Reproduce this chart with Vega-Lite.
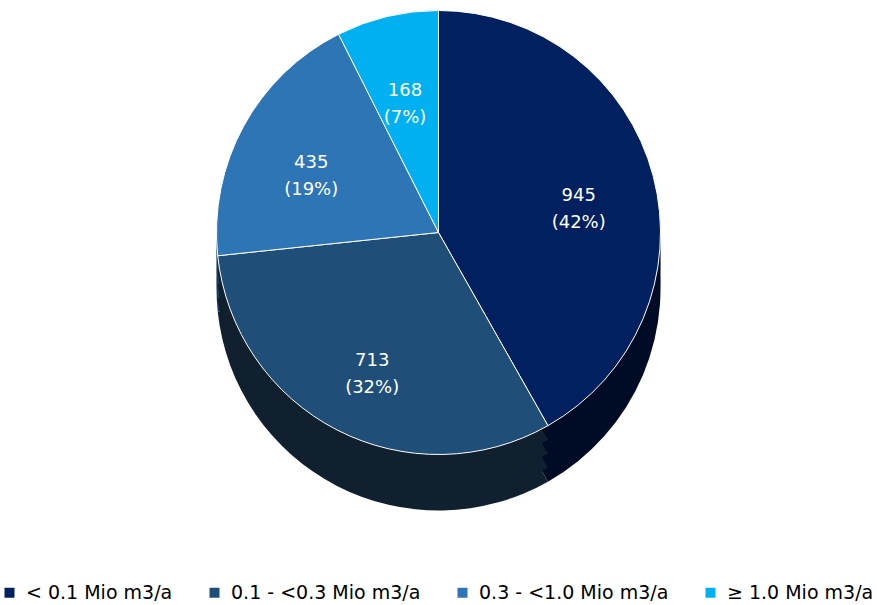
{
  "$schema": "https://vega.github.io/schema/vega-lite/v6.json",
  "width": 877,
  "height": 605,
  "autosize": "none",
  "padding": 0,
  "background": "white",
  "config": {"view": {"stroke": null}, "font": "DejaVu Sans"},
  "data": {
    "values": [
      {"i": 1, "cat": "< 0.1 Mio m3/a", "value": 945, "label": "945\n(42%)"},
      {"i": 2, "cat": "0.1 - <0.3 Mio m3/a", "value": 713, "label": "713\n(32%)"},
      {"i": 3, "cat": "0.3 - <1.0 Mio m3/a", "value": 435, "label": "435\n(19%)"},
      {"i": 4, "cat": "≥ 1.0 Mio m3/a", "value": 168, "label": "168\n(7%)"}
    ]
  },
  "layer": [
    {
      "mark": {"type": "arc", "outerRadius": 222, "yOffset": -14},
      "encoding": {
        "theta": {"field": "value", "type": "quantitative", "stack": true},
        "order": {"field": "i"},
        "color": {"field": "cat", "type": "nominal", "legend": null,
          "scale": {"domain": ["< 0.1 Mio m3/a", "0.1 - <0.3 Mio m3/a", "0.3 - <1.0 Mio m3/a", "≥ 1.0 Mio m3/a"],
                    "range": ["#000c25", "#10202f", "#173b5b", "#005878"]}}
      }
    },
    {
      "mark": {"type": "arc", "outerRadius": 222, "yOffset": -28},
      "encoding": {
        "theta": {"field": "value", "type": "quantitative", "stack": true},
        "order": {"field": "i"},
        "color": {"field": "cat", "type": "nominal", "legend": null,
          "scale": {"domain": ["< 0.1 Mio m3/a", "0.1 - <0.3 Mio m3/a", "0.3 - <1.0 Mio m3/a", "≥ 1.0 Mio m3/a"],
                    "range": ["#000c25", "#10202f", "#173b5b", "#005878"]}}
      }
    },
    {
      "mark": {"type": "arc", "outerRadius": 222, "yOffset": -42},
      "encoding": {
        "theta": {"field": "value", "type": "quantitative", "stack": true},
        "order": {"field": "i"},
        "color": {"field": "cat", "type": "nominal", "legend": null,
          "scale": {"domain": ["< 0.1 Mio m3/a", "0.1 - <0.3 Mio m3/a", "0.3 - <1.0 Mio m3/a", "≥ 1.0 Mio m3/a"],
                    "range": ["#000c25", "#10202f", "#173b5b", "#005878"]}}
      }
    },
    {
      "mark": {"type": "arc", "outerRadius": 222, "yOffset": -56},
      "encoding": {
        "theta": {"field": "value", "type": "quantitative", "stack": true},
        "order": {"field": "i"},
        "color": {"field": "cat", "type": "nominal", "legend": null,
          "scale": {"domain": ["< 0.1 Mio m3/a", "0.1 - <0.3 Mio m3/a", "0.3 - <1.0 Mio m3/a", "≥ 1.0 Mio m3/a"],
                    "range": ["#000c25", "#10202f", "#173b5b", "#005878"]}}
      }
    },
    {
      "mark": {"type": "arc", "outerRadius": 222, "yOffset": -70, "stroke": "white", "strokeWidth": 1},
      "encoding": {
        "theta": {"field": "value", "type": "quantitative", "stack": true},
        "order": {"field": "i"},
        "color": {"field": "cat", "type": "nominal",
          "scale": {"domain": ["< 0.1 Mio m3/a", "0.1 - <0.3 Mio m3/a", "0.3 - <1.0 Mio m3/a", "≥ 1.0 Mio m3/a"],
                    "range": ["#002060", "#1f4e79", "#2e75b6", "#00b0f0"]},
          "legend": {"title": null, "orient": "none", "legendX": 0, "legendY": 583, "direction": "horizontal",
                     "symbolType": "square", "symbolSize": 100, "symbolStrokeWidth": 0,
                     "labelFontSize": 19, "labelFont": "DejaVu Sans", "labelColor": "#000000", "labelLimit": 0,
                     "columnPadding": 32, "labelOffset": 7}}
      }
    },
    {
      "mark": {"type": "text", "radius": 145, "yOffset": -70, "fontSize": 18, "color": "white", "lineBreak": "\n", "lineHeight": 27, "font": "DejaVu Sans"},
      "encoding": {
        "theta": {"field": "value", "type": "quantitative", "stack": true},
        "order": {"field": "i"},
        "text": {"field": "label"}
      }
    }
  ],
  "resolve": {"scale": {"color": "independent"}}
}
